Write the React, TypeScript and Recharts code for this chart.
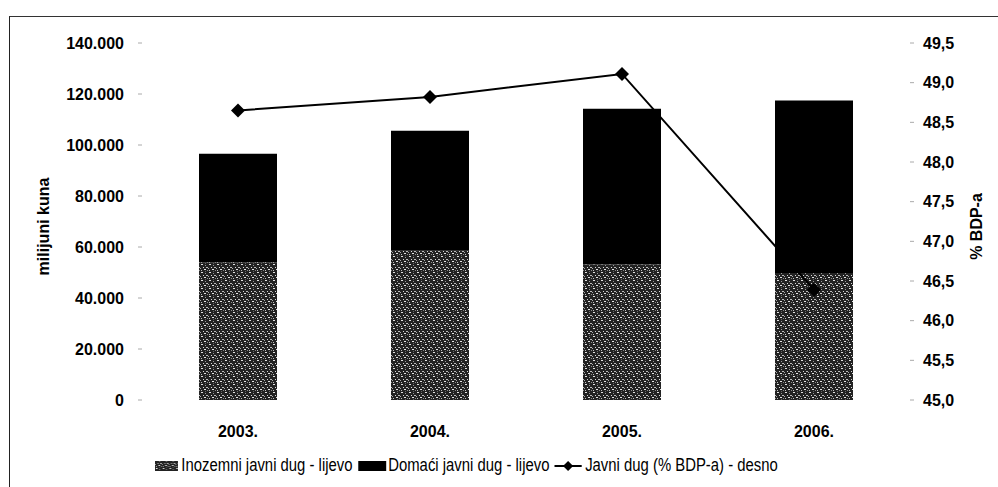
import { ComposedChart, Bar, Line, XAxis, YAxis, Legend } from 'recharts';

const years = ['2003.', '2004.', '2005.', '2006.'];
const inozemni = [54000, 58500, 53100, 49800];
const domaci = [42600, 47100, 61100, 67700];
const dugBdp = [48.65, 48.82, 49.11, 46.39];

const leftTicks = [0, 20000, 40000, 60000, 80000, 100000, 120000, 140000];
const rightTicks = [45, 45.5, 46, 46.5, 47, 47.5, 48, 48.5, 49, 49.5];

const data = years.map((y, i) => ({
  year: y,
  inozemni: inozemni[i],
  domaci: domaci[i],
  bdp: dugBdp[i],
}));

const font = '"Liberation Sans", Arial, sans-serif';

const fmtLeft = (v: number) => (v === 0 ? '0' : `${v / 1000}.000`);
const fmtRight = (v: number) => v.toFixed(1).replace('.', ',');

const Diamond = (props: any) => {
  const { cx, cy } = props;
  if (cx == null || cy == null) return null;
  return <polygon points={`${cx - 7},${cy} ${cx},${cy - 7} ${cx + 7},${cy} ${cx},${cy + 7}`} fill="#000" />;
};

const AxisTitle = ({ viewBox, value, dx }: any) => {
  const x = viewBox.x + dx;
  const y = viewBox.y + viewBox.height / 2 + 5;
  return (
    <text x={x} y={y} transform={`rotate(-90 ${x} ${y})`} textAnchor="middle" dominantBaseline="central"
      fontFamily={font} fontWeight="bold" fontSize={16} fill="#000">
      {value}
    </text>
  );
};

// legend font in the original is a condensed face, so squeeze the regular one
const LegendContent = () => (
  <div style={{ height: 42, boxSizing: 'border-box', paddingTop: 10 }}>
    <div style={{ display: 'inline-flex', alignItems: 'center', marginLeft: 155, fontFamily: font, fontSize: 17.5, color: '#000', transform: 'scaleX(0.85)', transformOrigin: 'left center', whiteSpace: 'nowrap' }}>
      <svg width={31} height={12}><rect x={0} y={1} width={27} height={10} fill="url(#speckle)" /></svg>
      <span style={{ marginRight: 7 }}>Inozemni javni dug - lijevo</span>
      <svg width={35} height={12}><rect x={0} y={1} width={33} height={10} fill="#000" /></svg>
      <span style={{ marginRight: 5 }}>Domaći javni dug - lijevo</span>
      <svg width={37} height={14}>
        <line x1={1} y1={7} x2={33} y2={7} stroke="#000" strokeWidth={2} />
        <polygon points="11,7 17,2 23,7 17,12" fill="#000" />
      </svg>
      <span>Javni dug (% BDP-a) - desno</span>
    </div>
  </div>
);

export default function App() {
  return (
    <div style={{ position: 'fixed', left: 0, top: 0, width: 998, height: 487, background: '#fff' }}>
      <div style={{ position: 'absolute', left: 9, top: 16, width: 989, height: 471, borderTop: '1.5px solid #333', borderLeft: '1.5px solid #222' }} />
      <div style={{ position: 'absolute', left: 0, top: 0 }}>
        <ComposedChart width={998} height={487} data={data} margin={{ top: 43, right: 0, bottom: 0, left: 0 }}>
          <defs>
            <pattern id="speckle" width="8" height="8" patternUnits="userSpaceOnUse">
              <rect width="8" height="8" fill="#222" />
              <rect x="1" y="0" width="2" height="1" fill="#e0e0e0" />
              <rect x="5" y="1" width="1" height="1" fill="#999" />
              <rect x="3" y="3" width="1" height="1" fill="#d8d8d8" />
              <rect x="6" y="3" width="2" height="1" fill="#bbb" />
              <rect x="0" y="4" width="1" height="1" fill="#aaa" />
              <rect x="4" y="5" width="2" height="1" fill="#e5e5e5" />
              <rect x="1" y="6" width="1" height="1" fill="#c0c0c0" />
              <rect x="7" y="6" width="1" height="1" fill="#888" />
              <rect x="5" y="7" width="1" height="1" fill="#666" />
            </pattern>
          </defs>
          <XAxis dataKey="year" axisLine={false} tickLine={false} height={45} tickMargin={20}
            tick={{ fontFamily: font, fontWeight: 'bold', fontSize: 16, fill: '#000' }} />
          <YAxis yAxisId="left" orientation="left" width={142} domain={[0, 140000]} ticks={leftTicks}
            tickFormatter={fmtLeft} axisLine={false} tickSize={4} tickMargin={14} tickLine={{ stroke: '#aaa' }}
            tick={{ fontFamily: font, fontWeight: 'bold', fontSize: 16, fill: '#000' }}
            label={(p: any) => <AxisTitle {...p} value="milijuni kuna" dx={43} />} />
          <YAxis yAxisId="right" orientation="right" width={88} domain={[45, 49.5]} ticks={rightTicks}
            tickFormatter={fmtRight} axisLine={false} tickSize={4} tickMargin={9} tickLine={{ stroke: '#aaa' }}
            tick={{ fontFamily: font, fontWeight: 'bold', fontSize: 16, fill: '#000' }}
            label={(p: any) => <AxisTitle {...p} value="% BDP-a" dx={66} />} />
          <Legend verticalAlign="bottom" height={42} content={LegendContent} wrapperStyle={{ left: 0, width: 998 }} />
          <Bar yAxisId="left" dataKey="inozemni" stackId="a" fill="url(#speckle)" barSize={78} isAnimationActive={false} />
          <Bar yAxisId="left" dataKey="domaci" stackId="a" fill="#000" barSize={78} isAnimationActive={false} />
          <Line yAxisId="right" type="linear" dataKey="bdp" stroke="#000" strokeWidth={2} dot={<Diamond />} activeDot={false} isAnimationActive={false} />
        </ComposedChart>
      </div>
    </div>
  );
}
